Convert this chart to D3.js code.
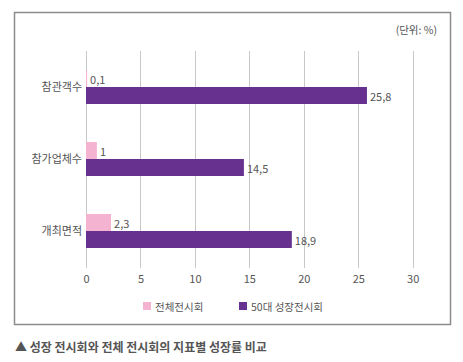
<!DOCTYPE html>
<html>
<head>
<meta charset="utf-8">
<script src="https://cdn.jsdelivr.net/npm/d3@7"></script>
<style>
  body { margin: 0; background: #fff; }
  svg { display: block; font-family: "Noto Sans CJK KR", "Noto Sans", sans-serif; }
</style>
</head>
<body>
<svg id="chart" width="463" height="362"></svg>
<script>
// data
const categories = ["참관객수", "참가업체수", "개최면적"];
const seriesNames = ["전체전시회", "50대 성장전시회"];
const totalVals = [0.1, 1, 2.3];
const growthVals = [25.8, 14.5, 18.9];
const valueLabels = [["0,1", "1", "2,3"], ["25,8", "14,5", "18,9"]];
const xTicks = [0, 5, 10, 15, 20, 25, 30];
const colors = ["#f4b3d0", "#67328f"];

const svg = d3.select("#chart");
const textColor = "#555";

// outer frame
svg.append("rect")
  .attr("x", 14.5).attr("y", 12.5)
  .attr("width", 436).attr("height", 312)
  .attr("fill", "none")
  .attr("stroke", "#8c8c8c")
  .attr("stroke-width", 1.5);

svg.append("text")
  .attr("x", 437).attr("y", 29)
  .attr("text-anchor", "end")
  .attr("dominant-baseline", "central")
  .attr("font-size", 10.5)
  .attr("fill", textColor)
  .text("(단위: %)");

const x = d3.scaleLinear().domain([0, 30]).range([86, 412.7]);
const y = d3.scaleBand().domain(categories).range([51, 267]);
const barH = 17;

// grid lines
svg.append("g")
  .selectAll("line")
  .data(xTicks)
  .join("line")
  .attr("x1", d => Math.round(x(d)) + 0.5)
  .attr("x2", d => Math.round(x(d)) + 0.5)
  .attr("y1", 51).attr("y2", 268)
  .attr("stroke", "#c8c8c8")
  .attr("stroke-width", 1);

// x axis labels
const xAxis = d3.axisBottom(x).tickValues(xTicks).tickSize(0).tickPadding(0);
const gx = svg.append("g").attr("transform", "translate(0,275)").call(xAxis);
gx.select(".domain").remove();
gx.selectAll("text")
  .attr("dy", "0.71em")
  .attr("font-size", 11)
  .attr("font-family", "'Noto Sans CJK KR', sans-serif")
  .attr("fill", textColor);

// category labels
const yAxis = d3.axisLeft(y).tickSize(0).tickPadding(4);
const gy = svg.append("g").attr("transform", "translate(86,0)").call(yAxis);
gy.select(".domain").remove();
gy.selectAll("text")
  .attr("font-size", 11)
  .attr("font-family", "'Noto Sans CJK KR', sans-serif")
  .attr("fill", textColor);

// bars
const series = [totalVals, growthVals];
series.forEach((vals, s) => {
  const g = svg.append("g");
  g.selectAll("rect")
    .data(vals)
    .join("rect")
    .attr("x", x(0))
    .attr("y", (d, i) => y(categories[i]) + y.bandwidth() / 2 - (s === 0 ? barH : 0))
    .attr("width", d => x(d) - x(0))
    .attr("height", barH)
    .attr("fill", colors[s]);
  g.selectAll("text")
    .data(vals)
    .join("text")
    .attr("x", d => x(d) + 3)
    .attr("y", (d, i) => y(categories[i]) + y.bandwidth() / 2 + (s === 0 ? -barH / 2 : barH / 2))
    .attr("dominant-baseline", "central")
    .attr("font-size", 11)
    .attr("fill", textColor)
    .text((d, i) => valueLabels[s][i]);
});

// legend
const legendX = [143, 239];
const legend = svg.append("g")
  .selectAll("g")
  .data(seriesNames)
  .join("g")
  .attr("transform", (d, i) => `translate(${legendX[i]},302)`);
legend.append("rect")
  .attr("width", 8).attr("height", 8)
  .attr("fill", (d, i) => colors[i]);
legend.append("text")
  .attr("x", 12).attr("y", 4)
  .attr("dominant-baseline", "central")
  .attr("font-size", 10.5)
  .attr("fill", textColor)
  .text(d => d);

// caption
svg.append("text")
  .attr("x", 15).attr("y", 346)
  .attr("dominant-baseline", "central")
  .attr("font-size", 12)
  .attr("font-weight", "bold")
  .attr("fill", "#555")
  .text("▲ 성장 전시회와 전체 전시회의 지표별 성장률 비교");
</script>
</body>
</html>
